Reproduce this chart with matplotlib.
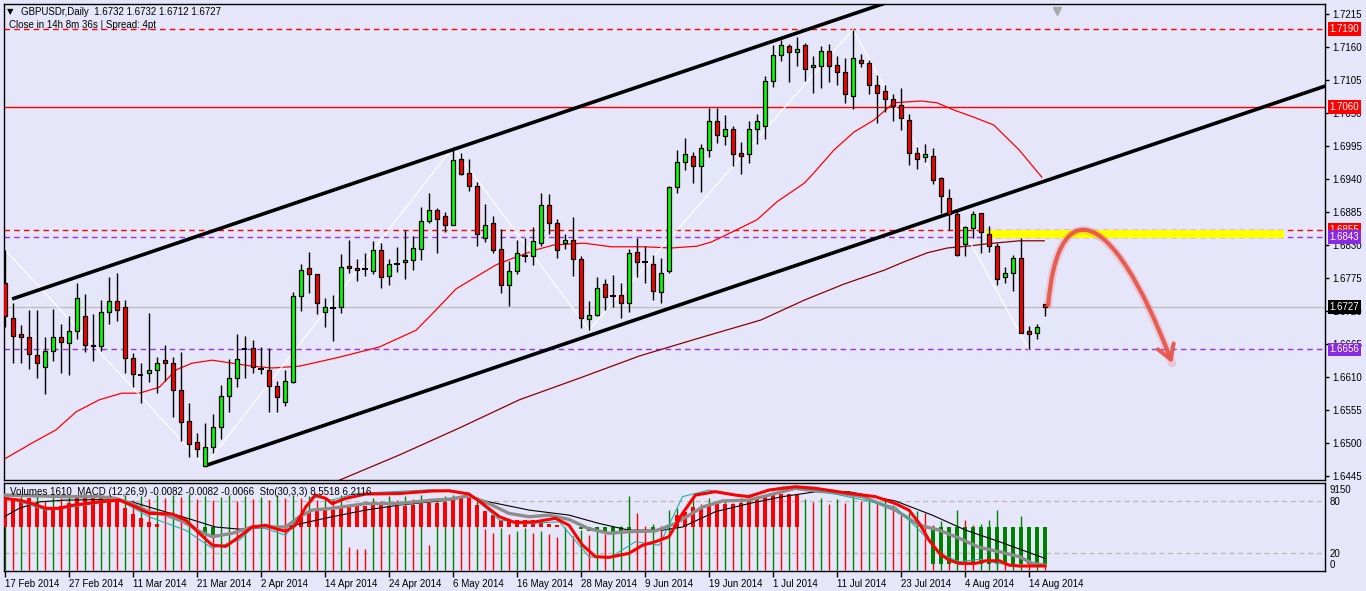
import matplotlib
matplotlib.use('Agg')
import matplotlib.pyplot as plt
import numpy as np
from matplotlib.path import Path
from matplotlib.patches import FancyArrowPatch, Rectangle

plt.rcParams['font.family'] = ['Liberation Sans', 'DejaVu Sans']
plt.rcParams['font.size'] = 7

# ---- daily candles, 17 Feb 2014 .. 18 Aug 2014 (bar index 0..130)
opens = [1.6766, 1.6709, 1.6681, 1.6676, 1.6647, 1.6626, 1.6654, 1.6676, 1.6666, 1.6687,
         1.6711, 1.6664, 1.6661, 1.6718, 1.6737, 1.6727, 1.6641, 1.6614, 1.6616, 1.6621,
         1.6638, 1.6633, 1.6589, 1.6536, 1.6502, 1.6462, 1.6494, 1.6526, 1.6579, 1.6609,
         1.6657, 1.6659, 1.6624, 1.6622, 1.6595, 1.6569, 1.6602, 1.6745, 1.6791, 1.6781,
         1.6718, 1.6725, 1.6726, 1.6795, 1.6792, 1.6790, 1.6787, 1.6822, 1.6779, 1.6799,
         1.6801, 1.6805, 1.6824, 1.6870, 1.6889, 1.6878, 1.6864, 1.6973, 1.6950, 1.6929,
         1.6841, 1.6866, 1.6823, 1.6764, 1.6786, 1.6812, 1.6812, 1.6834, 1.6896, 1.6866,
         1.6834, 1.6838, 1.6806, 1.6707, 1.6713, 1.6765, 1.6745, 1.6746, 1.6734, 1.6818,
         1.6802, 1.6799, 1.6752, 1.6786, 1.6926, 1.6969, 1.6979, 1.6961, 1.6989, 1.7036,
         1.7011, 1.7023, 1.6983, 1.6981, 1.7023, 1.7029, 1.7103, 1.7146, 1.7161, 1.7151,
         1.7163, 1.7126, 1.7128, 1.7154, 1.7130, 1.7118, 1.7079, 1.7139, 1.7134, 1.7096,
         1.7087, 1.7073, 1.7063, 1.7039, 1.6983, 1.6976, 1.6979, 1.6941, 1.6909, 1.6881,
         1.6832, 1.6858, 1.6883, 1.6849, 1.6828, 1.6776, 1.6783, 1.6808, 1.6686, 1.6684,
         1.6732]
highs = [1.6822, 1.6733, 1.6697, 1.6722, 1.6722, 1.6676, 1.6724, 1.6698, 1.6711, 1.6767,
         1.6748, 1.6715, 1.6738, 1.6776, 1.6784, 1.6738, 1.6650, 1.6633, 1.6716, 1.6644,
         1.6663, 1.6644, 1.6651, 1.6566, 1.6517, 1.6534, 1.6548, 1.6596, 1.6640, 1.6681,
         1.6679, 1.6672, 1.6660, 1.6658, 1.6604, 1.6622, 1.6752, 1.6798, 1.6818, 1.6782,
         1.6742, 1.6747, 1.6815, 1.6838, 1.6806, 1.6816, 1.6837, 1.6834, 1.6807, 1.6827,
         1.6855, 1.6845, 1.6894, 1.6917, 1.6892, 1.6885, 1.6993, 1.6983, 1.6973, 1.6935,
         1.6899, 1.6878, 1.6856, 1.6804, 1.6838, 1.6841, 1.6860, 1.6917, 1.6915, 1.6873,
         1.6849, 1.6877, 1.6812, 1.6737, 1.6776, 1.6773, 1.6780, 1.6766, 1.6824, 1.6841,
         1.6829, 1.6814, 1.6808, 1.6928, 1.6989, 1.7008, 1.6985, 1.6998, 1.7059, 1.7059,
         1.7046, 1.7029, 1.7002, 1.7037, 1.7049, 1.7112, 1.7163, 1.7172, 1.7165, 1.7176,
         1.7166, 1.7145, 1.7161, 1.7165, 1.7145, 1.7141, 1.7189, 1.7148, 1.7139, 1.7114,
         1.7097, 1.7082, 1.7091, 1.7049, 1.6994, 1.6998, 1.6991, 1.6944, 1.6923, 1.6889,
         1.6862, 1.6887, 1.6883, 1.6862, 1.6833, 1.6793, 1.6813, 1.6841, 1.6695, 1.6698,
         1.6732]
lows = [1.6693, 1.6634, 1.6634, 1.6623, 1.6609, 1.6581, 1.6637, 1.6617, 1.6614, 1.6674,
        1.6652, 1.6637, 1.6654, 1.6699, 1.6704, 1.6617, 1.6594, 1.6566, 1.6602, 1.6584,
        1.6603, 1.6543, 1.6503, 1.6476, 1.6477, 1.6462, 1.6483, 1.6506, 1.6551, 1.6594,
        1.6609, 1.6616, 1.6615, 1.6551, 1.6551, 1.6561, 1.6600, 1.6720, 1.6750, 1.6715,
        1.6694, 1.6670, 1.6716, 1.6784, 1.6770, 1.6779, 1.6782, 1.6759, 1.6763, 1.6785,
        1.6774, 1.6789, 1.6805, 1.6867, 1.6817, 1.6851, 1.6863, 1.6947, 1.6920, 1.6829,
        1.6835, 1.6816, 1.6750, 1.6729, 1.6781, 1.6802, 1.6797, 1.6828, 1.6848, 1.6808,
        1.6824, 1.6778, 1.6692, 1.6688, 1.6711, 1.6722, 1.6727, 1.6708, 1.6718, 1.6777,
        1.6767, 1.6739, 1.6734, 1.6783, 1.6917, 1.6955, 1.6934, 1.6919, 1.6976, 1.7000,
        1.6997, 1.6962, 1.6949, 1.6967, 1.6998, 1.7006, 1.7093, 1.7136, 1.7101, 1.7129,
        1.7104, 1.7083, 1.7091, 1.7101, 1.7096, 1.7066, 1.7056, 1.7126, 1.7082, 1.7033,
        1.7052, 1.7037, 1.7021, 1.6963, 1.6957, 1.6969, 1.6931, 1.6884, 1.6855, 1.6812,
        1.6811, 1.6841, 1.6817, 1.6819, 1.6763, 1.6766, 1.6754, 1.6683, 1.6656, 1.6674,
        1.6712]
closes = [1.6711, 1.6679, 1.6676, 1.6648, 1.6634, 1.6653, 1.6677, 1.6669, 1.6687, 1.6741,
          1.6663, 1.6661, 1.6718, 1.6737, 1.6721, 1.6641, 1.6615, 1.6614, 1.6622, 1.6633,
          1.6634, 1.6589, 1.6535, 1.6499, 1.6490, 1.6494, 1.6526, 1.6578, 1.6608, 1.6640,
          1.6657, 1.6626, 1.6624, 1.6595, 1.6576, 1.6604, 1.6745, 1.6789, 1.6782, 1.6733,
          1.6726, 1.6725, 1.6793, 1.6791, 1.6788, 1.6790, 1.6822, 1.6777, 1.6798, 1.6799,
          1.6805, 1.6825, 1.6870, 1.6889, 1.6873, 1.6864, 1.6972, 1.6949, 1.6929, 1.6848,
          1.6864, 1.6822, 1.6764, 1.6786, 1.6816, 1.6812, 1.6836, 1.6896, 1.6867, 1.6822,
          1.6839, 1.6806, 1.6708, 1.6714, 1.6758, 1.6743, 1.6745, 1.6734, 1.6816, 1.6801,
          1.6802, 1.6754, 1.6784, 1.6926, 1.6969, 1.6981, 1.6961, 1.6991, 1.7036, 1.7013,
          1.7024, 1.6981, 1.6979, 1.7023, 1.7036, 1.7103, 1.7146, 1.7163, 1.7151, 1.7157,
          1.7124, 1.7130, 1.7153, 1.7129, 1.7118, 1.7081, 1.7141, 1.7133, 1.7097, 1.7083,
          1.7073, 1.7061, 1.7041, 1.6983, 1.6973, 1.6981, 1.6939, 1.6911, 1.6882, 1.6813,
          1.6860, 1.6882, 1.6852, 1.6829, 1.6774, 1.6784, 1.6809, 1.6684, 1.6682, 1.6693,
          1.6727]

date_ticks = list(range(0, 129, 8))
date_labels = ["17 Feb 2014", "27 Feb 2014", "11 Mar 2014", "21 Mar 2014", "2 Apr 2014",
               "14 Apr 2014", "24 Apr 2014", "6 May 2014", "16 May 2014", "28 May 2014",
               "9 Jun 2014", "19 Jun 2014", "1 Jul 2014", "11 Jul 2014", "23 Jul 2014",
               "4 Aug 2014", "14 Aug 2014"]
price_ticks = [1.7215, 1.7160, 1.7105, 1.7050, 1.6995, 1.6940, 1.6885, 1.6830,
               1.6775, 1.6720, 1.6665, 1.6610, 1.6555, 1.6500, 1.6445]

# moving averages (bar, price)
ma_fast_x = [-0.1, 3.4, 6.4, 8.9, 11.8, 14.6, 16.8, 19.3, 21.4, 23.4, 25.9, 28.4, 30.9, 33.4,
             36.8, 41.8, 46.8, 51.4, 53.9, 56.4, 58.9, 61.4, 63.9, 66.4, 68.6, 72.4, 75.8,
             79.9, 83.3, 86.5, 88.3, 90.8, 94.0, 96.5, 99.9, 101.1, 103.6, 106.1, 108.6,
             111.1, 114.5, 116.5, 118.6, 121.1, 123.6, 126.8, 129.6]
ma_fast_y = [1.6473, 1.6500, 1.6522, 1.6552, 1.6572, 1.6583, 1.6583, 1.6593, 1.6622, 1.6633,
             1.6638, 1.6633, 1.6628, 1.6625, 1.6628, 1.6643, 1.6660, 1.6688, 1.6722, 1.6757,
             1.6777, 1.6797, 1.6810, 1.6822, 1.6830, 1.6833, 1.6827, 1.6827, 1.6825, 1.6828,
             1.6835, 1.6851, 1.6872, 1.6902, 1.6933, 1.6950, 1.6988, 1.7018, 1.7038, 1.7067,
             1.7070, 1.7067, 1.7055, 1.7043, 1.7030, 1.6988, 1.6943]
ma_slow_x = [41.8, 49.3, 56.8, 64.3, 71.8, 79.3, 86.8, 94.5, 99.9, 104.9, 109.9, 112.4,
             115.3, 117.8, 120.3, 122.8, 126.8, 129.9]
ma_slow_y = [1.6438, 1.6480, 1.6525, 1.6572, 1.6608, 1.6645, 1.6675, 1.6705, 1.6738, 1.6765,
             1.6788, 1.6802, 1.6817, 1.6825, 1.6828, 1.6832, 1.6837, 1.6837]

zigzag_bars = [0, 25, 56, 73, 106, 128]

channel_upper = [(0.9, 1.6740), (56, 1.6989)]
channel_lower = [(25, 1.6462), (125, 1.6914)]

levels = [1.7190, 1.7060, 1.6855, 1.6843, 1.6727, 1.6656]
level_colors = ['#FF0000', '#FF0000', '#FF0000', '#9B30F0', '#C0C0C0', '#9B30F0']
level_styles = ['dash', 'solid', 'dash', 'dash', 'solid', 'dash']
level_box = ['#FF0000', '#FF0000', '#FF0000', '#8A2BE2', '#000000', '#8A2BE2']

zone_x = (122.6, 159.9)
zone_y = (1.6841, 1.6855)
arrow_pts = [(130.4, 1.6730), (131.5, 1.6910), (138.0, 1.6910), (145.9, 1.6633)]

# ---- lower window: volumes, MACD histogram, stochastic (window scale 0..100)
volumes = [7600, 7400, 7800, 7500, 7900, 7300, 8000, 7600, 7800, 7400,
           7900, 7500, 7700, 8000, 7600, 7900, 7400, 7800, 7500, 8000,
           7600, 7900, 7700, 8100, 7500, 7800, 7400, 7700, 7900, 7300,
           7800, 7500, 7700, 7400, 7900, 7600, 8000, 7600, 7800, 7400,
           7700, 7500, 7900, 2500, 2300, 2200, 7600, 7300, 7800, 7400,
           7800, 7500, 7900, 2700, 7400, 7800, 8000, 7600, 7400, 7700,
           4400, 3900, 4500, 3800, 4200, 4500, 3900, 4100, 3800, 3500,
           4600, 3600, 4300, 3700, 4500, 3800, 4400, 4700, 7800, 6000,
           4700, 4900, 4700, 6400, 6600, 6200, 7500, 7000, 7600, 7200,
           7500, 7100, 7600, 7300, 7800, 7400, 7600, 7200, 7700, 7300,
           7500, 7200, 7600, 7000, 7500, 7100, 7700, 7300, 7600, 7200,
           7400, 6900, 5840, 6100, 6300, 6000, 4780, 5200, 4250, 6360,
           5310, 4780, 4900, 5310, 6330, 1270, 4100, 5740, 1270, 4600,
           1610]
macd_hist = [33, 33, 30, 33, 28, 22, 21, 24, 28, 33,
             33, 33, 33, 33, 30, 22, 15, 10, 6, 3,
             0, 0, 0, 0, 0, -9, -9, 0, 0, 0,
             0, 0, 0, 0, 0, 0, 0, 12, 17, 20,
             22, 20, 22, 24, 24, 24, 25, 25, 24, 24,
             24, 25, 27, 28, 28, 29, 33, 33, 33, 25,
             18, 14, 8, 8, 8, 8, 8, 6, 4, 2,
             0, 0, -2, -5, -5, -6, -6, -6, -3, 0,
             0, -3, 0, 0, 14, 17, 23, 23, 26, 26,
             26, 26, 28, 30, 35, 35, 38, 38, 38, 38,
             0, 0, 0, 0, 0, 0, 0, 0, 0, 0,
             0, 0, 0, 0, 0, 0, -43, -43, -43, -43,
             -43, -43, -43, -43, -43, -43, -43, -43, -43, -43,
             -43]

sto_main_x = [-0.1, 1.8, 3.4, 5.1, 6.8, 8.4, 11.8, 14.3, 15.9, 18.0,
              20.9, 22.6, 24.3, 25.9, 27.6, 29.3, 30.9, 32.6, 33.8, 35.1,
              36.3, 37.6, 38.8, 40.1, 40.9, 42.6, 45.1, 49.3, 53.4, 55.5,
              58.0, 59.7, 61.8, 63.8, 66.3, 68.8, 70.5, 72.2, 73.8, 75.5,
              78.0, 79.7, 81.3, 83.0, 84.7, 86.3, 88.8, 91.3, 93.0, 95.5,
              98.8, 101.3, 105.5, 108.8, 111.3, 113.0, 114.3, 115.5, 116.8, 118.0,
              119.3, 121.3, 122.6, 124.3, 125.5, 126.8, 130.0]
sto_main_y = [83, 81, 77, 71.5, 71.5, 75, 79, 81, 75, 65.7,
              65, 58, 42.7, 29, 27.6, 38.8, 50, 52, 48, 45,
              52, 73, 86.8, 83, 77, 83, 88, 88.6, 91.5, 91.8,
              88, 77, 61.8, 55, 56, 60, 52, 29, 15.7, 15,
              19.6, 29, 33, 38.8, 65.7, 86.8, 90.7, 86.8, 85, 92.6,
              96.4, 94.6, 88.8, 85, 77, 69.5, 54, 35, 19.6, 11.9,
              8, 8, 11, 11, 6, 5, 5]
sto_fast_x = [-0.1, 5.1, 8.4, 14.3, 18.0, 22.6, 25.9, 29.3, 31.3, 35.1, 36.8, 38.4, 40.9,
              43.8, 53.4, 58.0, 61.8, 65.5, 69.3, 73.0, 75.5, 78.8, 81.8, 84.7, 88.0, 92.2,
              97.2, 101.3, 111.3, 114.3, 116.8, 119.3, 121.8, 124.3, 126.8, 130.0]
sto_fast_y = [85, 69.5, 73, 81, 61.8, 46.3, 25.5, 34.8, 52, 40.4, 61.8, 85, 81,
              88.6, 93, 88.8, 58, 54, 56, 15.7, 14, 33, 29, 85, 92.6, 85,
              96.4, 93, 73, 46.3, 19.6, 10, 12.7, 8, 4, 7]
sto_signal_x = [-0.1, 3.4, 7.6, 11.8, 13.8, 15.9, 18.0, 20.1, 22.2, 24.3, 25.9, 28.4, 30.9,
                35.1, 36.8, 38.4, 40.9, 45.1, 49.3, 53.4, 55.5, 58.0, 60.5, 63.0, 65.5, 68.0,
                70.5, 73.0, 75.5, 78.0, 81.3, 83.8, 87.2, 89.7, 93.0, 95.5, 98.8, 101.3,
                103.8, 107.2, 111.3, 114.3, 116.8, 119.3, 121.8, 124.3, 126.8, 128.4, 130.0]
sto_signal_y = [86.8, 86, 85, 85, 83, 77, 67.6, 64, 56.6, 45, 38.8, 42.7, 50,
                50, 61.8, 69.5, 71.5, 77, 77, 81, 82, 86, 77, 65.7, 61.8, 63.7,
                58.7, 48, 42.7, 44.6, 45.4, 54, 73, 80, 81, 86.8, 94.6, 91.8,
                89.4, 85, 69.5, 52, 46.3, 36.9, 26.5, 21.5, 15.7, 8, 6]
macd_signal_x = [-0.1, 1.8, 4.3, 7.6, 11.8, 15.9, 18.0, 22.2, 26.3, 29.3, 32.6, 35.1, 40.9,
                 45.1, 49.3, 55.5, 58.0, 60.5, 65.5, 70.5, 74.3, 78.0, 82.2, 84.7, 88.8,
                 93.0, 97.2, 101.3, 105.5, 111.3, 115.9, 120.1, 124.3, 130.0]
macd_signal_y = [61.8, 71.5, 79, 81, 81.6, 79, 73, 61.8, 50, 47.5, 49.4, 50, 61.8,
                 69.5, 75.3, 81, 85, 79, 69.5, 63.7, 54, 46.3, 46.3, 50, 67.6,
                 77, 85, 90.6, 90.6, 80, 63.7, 46.3, 33, 13.8]

vol_max = 9150
bg = '#E6E6FA'


def ray(p0, p1, x_end):
    slope = (p1[1] - p0[1]) / (p1[0] - p0[0])
    return [p0[0], x_end], [p0[1], p0[1] + slope * (x_end - p0[0])]


fig = plt.figure(figsize=(13.66, 5.91), dpi=100, facecolor=bg)
ax = fig.add_axes([0.0029, 0.1878, 0.9671, 0.8054], facecolor=bg)
ax2 = fig.add_axes([0.0029, 0.0338, 0.9671, 0.1489], facecolor=bg, sharex=ax)

x = np.arange(len(opens))
o = np.array(opens); h = np.array(highs); l = np.array(lows); c = np.array(closes)

# levels
for lev, col, st in zip(levels, level_colors, level_styles):
    ls = (0, (4, 3)) if st == 'dash' else '-'
    ax.axhline(lev, color=col, lw=1, ls=ls, zorder=1)

ax.add_patch(Rectangle((zone_x[0], zone_y[0]), zone_x[1] - zone_x[0], zone_y[1] - zone_y[0],
                       facecolor='#FFFF00', edgecolor='none', zorder=1.5))

# moving averages, zigzag, channel
ax.plot(ma_fast_x, ma_fast_y, color='#FF0000', lw=0.9, zorder=2)
ax.plot(ma_slow_x, ma_slow_y, color='#8B0000', lw=0.9, zorder=2)
zz_y = [h[b] if i % 2 == 0 else l[b] for i, b in enumerate(zigzag_bars)]
ax.plot(zigzag_bars, zz_y, color='white', lw=0.9, zorder=2)
for p0, p1 in [channel_upper, channel_lower]:
    rx, ry = ray(p0, p1, 170)
    ax.plot(rx, ry, color='black', lw=2.6, zorder=2.2, solid_capstyle='butt')

# candles
up = c > o
doji = np.isclose(c, o)
ax.vlines(x, l, h, color='black', lw=1, zorder=3)
body_bot = np.minimum(o, c)
body_h = np.abs(c - o)
cols = np.where(up, '#00FF00', '#FF0000')
ax.bar(x[~doji], body_h[~doji], bottom=body_bot[~doji], width=0.58, color=cols[~doji],
       edgecolor='black', linewidth=0.9, zorder=4)
ax.hlines(o[doji], x[doji] - 0.32, x[doji] + 0.32, color='black', lw=1.4, zorder=4)

# drawn arrow
apath = Path(arrow_pts, [Path.MOVETO, Path.CURVE4, Path.CURVE4, Path.CURVE4])
glow = FancyArrowPatch(path=apath, arrowstyle='-', color='#E8574B', lw=6, alpha=0.2,
                       zorder=5, shrinkA=0, shrinkB=6)
ax.add_patch(glow)
arr = FancyArrowPatch(path=apath, arrowstyle='->,head_length=0.5,head_width=0.3',
                      mutation_scale=20, color='#E8574B', lw=3, alpha=0.95, zorder=5)
ax.add_patch(arr)

ax.set_xlim(-0.12, 165.0)
ax.set_ylim(1.64383, 1.72316)

ax.yaxis.tick_right()
ax.set_yticks(price_ticks)
ax.set_yticklabels(['%.4f' % p for p in price_ticks])
ax.tick_params(axis='y', length=3, width=1, pad=2, labelsize=7)
ax.tick_params(axis='x', bottom=False, labelbottom=False)
for s in ax.spines.values():
    s.set_linewidth(1)

# right-hand price boxes
for lev, bc in zip(levels, level_box):
    ax.text(1.0035, lev, '%.4f' % lev, transform=ax.get_yaxis_transform(), color='white',
            fontsize=7, va='center', ha='left', zorder=6, clip_on=False,
            bbox=dict(boxstyle='square,pad=0.18', fc=bc, ec='none'))

# chart shift marker
ax.plot([131.5], [0.985], marker='v', color='#A8A8A8', ms=6,
        transform=ax.get_xaxis_transform(), clip_on=False, zorder=6)

# header
fig.text(10 / 1366, 1 - 12 / 591, '\u25BC', fontsize=6, va='center', ha='center',
         family=['DejaVu Sans'])
fig.text(21 / 1366, 1 - 12 / 591, 'GBPUSDr,Daily  1.6732 1.6732 1.6712 1.6727', fontsize=7,
         va='center', ha='left')
fig.text(9 / 1366, 1 - 25 / 591, 'Close in 14h 8m 36s | Spread: 4pt', fontsize=7,
         va='center', ha='left')

# ---- lower window
vol = np.array(volumes, dtype=float)
vol_up = np.r_[True, vol[1:] > vol[:-1]]
ax2.vlines(x, 0, vol / vol_max * 100, colors=np.where(vol_up, '#008000', '#FF0000'), lw=1,
           zorder=2)
mh = np.array(macd_hist, dtype=float)
pos = mh > 0
neg = mh < 0
ax2.bar(x[pos], mh[pos], bottom=50, width=0.45, color='#FF0000', zorder=3)
ax2.bar(x[neg], mh[neg], bottom=50, width=0.45, color='#008000', zorder=3)
for lv in (80, 20):
    ax2.axhline(lv, color='#B8B8B8', lw=0.9, ls=(0, (4, 3)), zorder=1)
ax2.plot(macd_signal_x, macd_signal_y, color='black', lw=0.8, zorder=4)
ax2.plot(sto_signal_x, sto_signal_y, color='#8C8C8C', lw=2.4, zorder=4)
ax2.plot(sto_fast_x, sto_fast_y, color='#20B2AA', lw=0.8, zorder=4)
ax2.plot(sto_main_x, sto_main_y, color='#FF0000', lw=2.2, zorder=5)
ax2.set_ylim(-0.8, 100.7)

ax2.yaxis.tick_right()
ax2.set_yticks([93.8, 80, 20, 7.3])
ax2.set_yticklabels(['9150', '80', '20', '0'])
ax2.tick_params(axis='y', length=0, pad=3, labelsize=7)
ax2.set_xticks(date_ticks)
ax2.set_xticklabels(date_labels, ha='left')
ax2.tick_params(axis='x', length=4, width=1, pad=2, labelsize=7)
for s in ax2.spines.values():
    s.set_linewidth(1)
ax2.text(0.0045, 0.9, 'Volumes 1610  MACD (12,26,9) -0.0082 -0.0082 -0.0066  Sto(30,3,3) 8.5518 6.2116',
         transform=ax2.transAxes, fontsize=7, va='center', ha='left', zorder=6)

fig.savefig('out.png', dpi=100, facecolor=bg)
